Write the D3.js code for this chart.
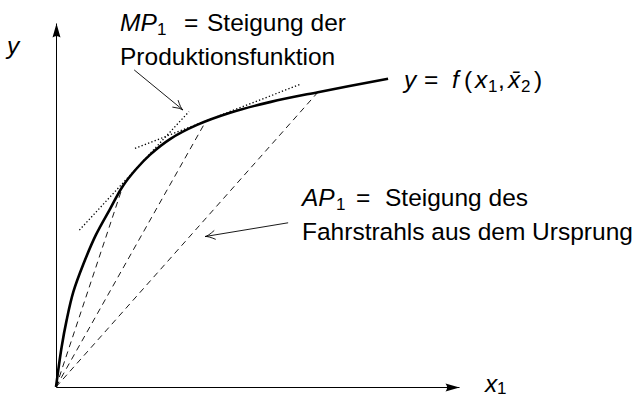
<!DOCTYPE html>
<html>
<head>
<meta charset="utf-8">
<script src="https://cdn.jsdelivr.net/npm/d3@7"></script>
<style>
  body { margin: 0; background: #fff; }
  svg { display: block; font-family: "Liberation Sans", Arial, sans-serif; }
  .lbl { font-size: 24.5px; fill: #000; }
  .it { font-style: italic; }
  .sub { font-size: 17px; }
</style>
</head>
<body>
<div id="chart"></div>
<script>
// production function y = f(x1, x2bar) (axis units 0..100 / 0..90)
var curveX = [0, 1.4, 2.65, 4.3, 6.8, 9.9, 13.4, 16.6, 19.9, 23.3, 28.3, 35.0, 43.2, 53.3, 65.0, 82.4];
var curveY = [0, 9.9, 16.6, 23.5, 30.4, 37.6, 44.0, 49.7, 53.9, 57.4, 61.3, 64.8, 67.8, 70.5, 72.9, 76.2];

// rays from the origin (AP1), end points on the curve
var rayX = [16.6, 37.0, 65.0];
var rayY = [49.7, 65.4, 72.9];

// tangents (MP1): start and end points
var tangentX0 = [5.8, 19.6];
var tangentY0 = [38.8, 59.0];
var tangentX1 = [33.0, 60.5];
var tangentY1 = [68.1, 74.8];

// annotation arrows: tail -> tip
var arrowX0 = [19.4, 57.6];
var arrowY0 = [78.4, 40.6];
var arrowX1 = [31.5, 37.0];
var arrowY1 = [68.5, 37.2];

var width = 635, height = 399;

var x = d3.scaleLinear().domain([0, 100]).range([56, 459]);
var y = d3.scaleLinear().domain([0, 90]).range([387, 23]);

var svg = d3.select("#chart").append("svg")
    .attr("width", width)
    .attr("height", height);

// axes without ticks, arrow heads at the ends
svg.append("g")
  .attr("transform", "translate(0," + y(0) + ")")
  .call(d3.axisBottom(x).tickValues([]).tickSizeOuter(0));
svg.append("g")
  .attr("transform", "translate(" + x(0) + ",0)")
  .call(d3.axisLeft(y).tickValues([]).tickSizeOuter(0));

var tipX = x(100) + 0.5, tipY = y(90) + 0.5;
var ax0 = x(0) + 0.5, ay0 = y(0) + 0.5;
svg.append("path")
  .attr("d", "M" + tipX + "," + ay0 + "L" + (tipX - 14) + "," + (ay0 - 4) +
    "Q" + (tipX - 11) + "," + ay0 + " " + (tipX - 14) + "," + (ay0 + 4) + "Z")
  .attr("fill", "#000");
svg.append("path")
  .attr("d", "M" + ax0 + "," + tipY + "L" + (ax0 - 4) + "," + (tipY + 14) +
    "Q" + ax0 + "," + (tipY + 11) + " " + (ax0 + 4) + "," + (tipY + 14) + "Z")
  .attr("fill", "#000");

// dashed rays
svg.append("g").selectAll("line")
  .data(rayX)
  .enter().append("line")
  .attr("x1", x(0))
  .attr("y1", y(0))
  .attr("x2", function(d) { return x(d); })
  .attr("y2", function(d, i) { return y(rayY[i]); })
  .attr("stroke", "#000")
  .attr("stroke-width", 0.9)
  .attr("stroke-dasharray", "6,4.5");

// dotted tangents
svg.append("g").selectAll("line")
  .data(tangentX0)
  .enter().append("line")
  .attr("x1", function(d) { return x(d); })
  .attr("y1", function(d, i) { return y(tangentY0[i]); })
  .attr("x2", function(d, i) { return x(tangentX1[i]); })
  .attr("y2", function(d, i) { return y(tangentY1[i]); })
  .attr("stroke", "#000")
  .attr("stroke-width", 1.3)
  .attr("stroke-dasharray", "1.3,2.2");

// the production function
var line = d3.line()
  .x(function(d) { return x(d); })
  .y(function(d, i) { return y(curveY[i]); })
  .curve(d3.curveCatmullRom.alpha(0.5));

svg.append("path")
  .attr("d", line(curveX))
  .attr("fill", "none")
  .attr("stroke", "#000")
  .attr("stroke-width", 2.6);

// annotation arrows with open heads
arrowX0.forEach(function(d, i) {
  var sx = x(d), sy = y(arrowY0[i]), ex = x(arrowX1[i]), ey = y(arrowY1[i]);
  var len = Math.sqrt((ex - sx) * (ex - sx) + (ey - sy) * (ey - sy));
  var ux = (ex - sx) / len, uy = (ey - sy) / len;
  var L = 10, W = 4.5;
  svg.append("line")
    .attr("x1", sx).attr("y1", sy)
    .attr("x2", ex).attr("y2", ey)
    .attr("stroke", "#000")
    .attr("stroke-width", 0.9);
  svg.append("path")
    .attr("d", "M" + (ex - L * ux - W * uy) + "," + (ey - L * uy + W * ux) +
      "Q" + (ex - 3 * ux) + "," + (ey - 3 * uy) + " " + ex + "," + ey +
      "Q" + (ex - 3 * ux) + "," + (ey - 3 * uy) + " " + (ex - L * ux + W * uy) + "," + (ey - L * uy - W * ux))
    .attr("fill", "none")
    .attr("stroke", "#000")
    .attr("stroke-width", 0.9);
});

// labels
var t;
t = svg.append("text").attr("class", "lbl it").attr("x", 7).attr("y", 54).text("y");

t = svg.append("text").attr("class", "lbl").attr("y", 392);
t.append("tspan").attr("class", "it").attr("x", 485).text("x");
t.append("tspan").attr("class", "sub").attr("x", 497).attr("dy", 2).text("1");

t = svg.append("text").attr("class", "lbl").attr("y", 31);
t.append("tspan").attr("class", "it").attr("x", 120).text("MP");
t.append("tspan").attr("class", "sub").attr("x", 157).attr("dy", 4).text("1");
t.append("tspan").attr("x", 184).attr("dy", -4).text("=");
t.append("tspan").attr("x", 207).text("Steigung der");
svg.append("text").attr("class", "lbl").attr("x", 120).attr("y", 65).text("Produktionsfunktion");

t = svg.append("text").attr("class", "lbl").attr("y", 88);
t.append("tspan").attr("class", "it").attr("x", 404).text("y");
t.append("tspan").attr("x", 424).text("=");
t.append("tspan").attr("class", "it").attr("x", 452).text("f");
t.append("tspan").attr("x", 464).text("(");
t.append("tspan").attr("class", "it").attr("x", 475).text("x");
t.append("tspan").attr("class", "sub").attr("x", 488).attr("dy", 4).text("1");
t.append("tspan").attr("x", 498).attr("dy", -4).text(",");
t.append("tspan").attr("class", "it").attr("x", 508).text("x\u0304");
t.append("tspan").attr("class", "sub").attr("x", 521).attr("dy", 4).text("2");
t.append("tspan").attr("x", 534).attr("dy", -4).text(")");

t = svg.append("text").attr("class", "lbl").attr("y", 206);
t.append("tspan").attr("class", "it").attr("x", 302).text("AP");
t.append("tspan").attr("class", "sub").attr("x", 336).attr("dy", 4).text("1");
t.append("tspan").attr("x", 356).attr("dy", -4).text("=");
t.append("tspan").attr("x", 385).text("Steigung des");
svg.append("text").attr("class", "lbl").attr("x", 302).attr("y", 240).text("Fahrstrahls aus dem Ursprung");
</script>
</body>
</html>
